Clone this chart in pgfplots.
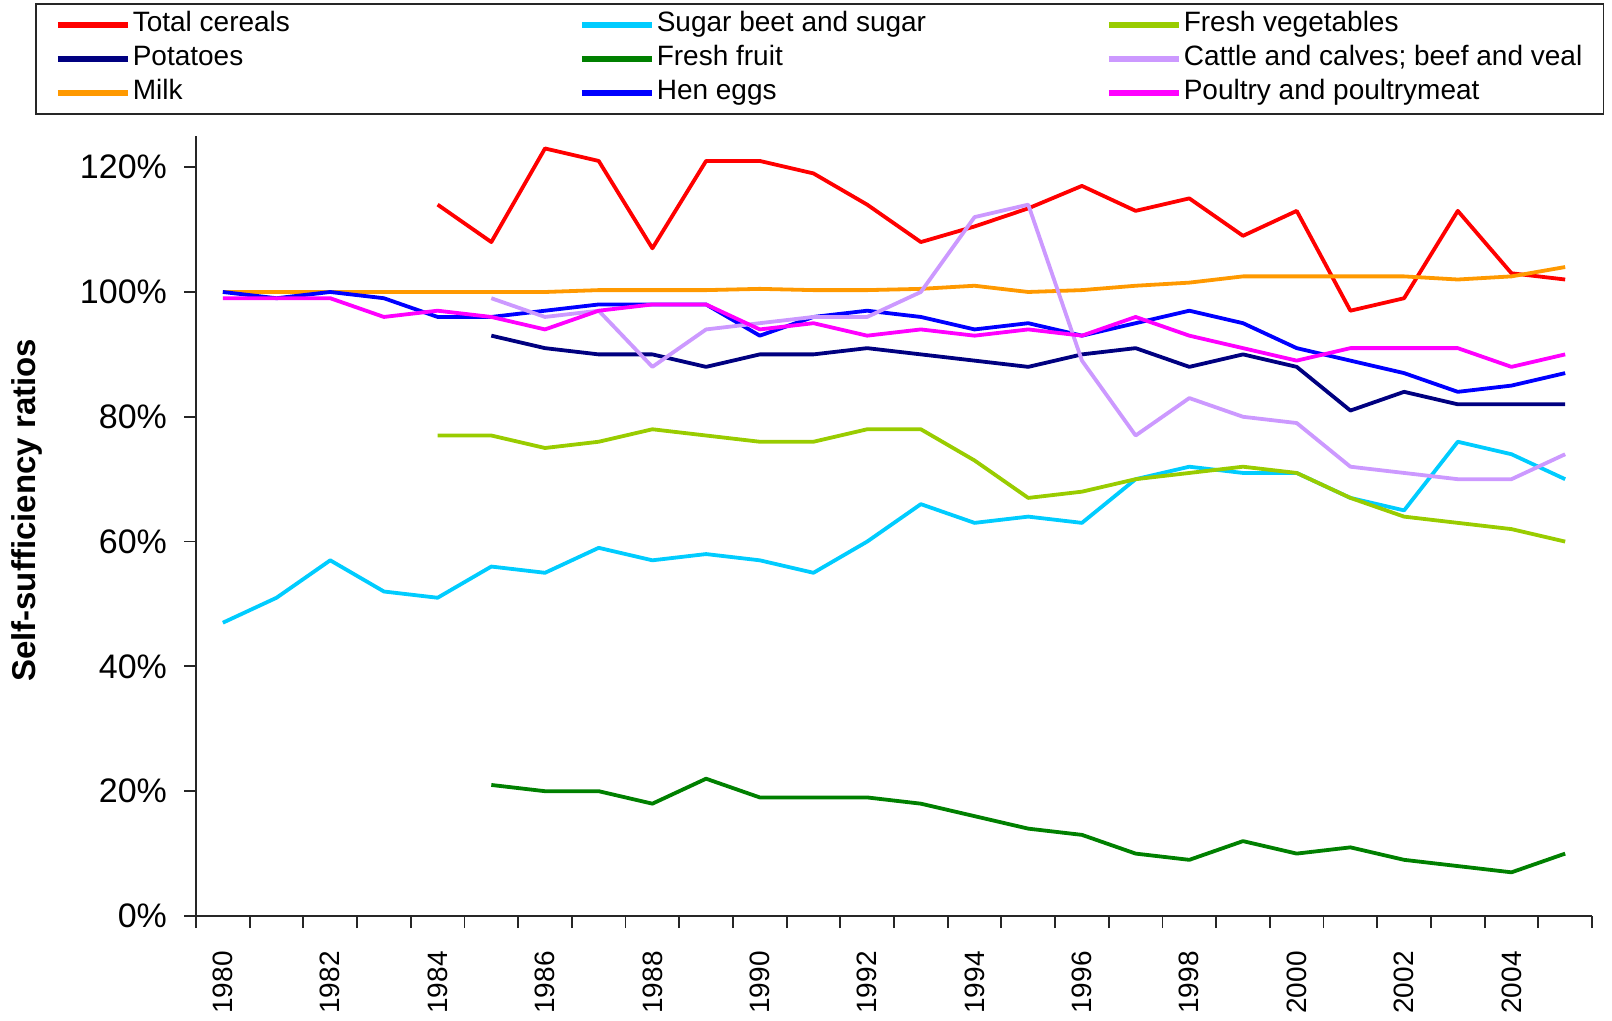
\documentclass[border=0pt]{standalone}
\usepackage{fontspec}
\setmainfont{Liberation Sans}
\usepackage{pgfplots}
\pgfplotsset{compat=1.18}
\definecolor{cCer}{HTML}{FF0000}
\definecolor{cPot}{HTML}{000080}
\definecolor{cMilk}{HTML}{FF9900}
\definecolor{cSug}{HTML}{00CCFF}
\definecolor{cFruit}{HTML}{008000}
\definecolor{cEgg}{HTML}{0000FF}
\definecolor{cVeg}{HTML}{99CC00}
\definecolor{cCat}{HTML}{CC99FF}
\definecolor{cPoul}{HTML}{FF00FF}
\begin{document}
\begin{tikzpicture}
\begin{axis}[
  scale only axis, width=698pt, height=390pt,
  xmin=1979.5, xmax=2005.5, ymin=0, ymax=125,
  axis x line=bottom, axis y line=left,
  axis line style={-, line width=1pt, black!85},
  tick align=outside,
  xtick={1980,1982,...,2004},
  minor xtick={1979.5,1980.5,...,2005.5},
  major x tick style={draw=none},
  minor x tick style={line width=0.9pt, black!85},
  minor tick length=6pt, major tick length=6pt,
  ytick={0,20,...,120},
  y tick style={line width=0.9pt, black!85},
  yticklabel={\pgfmathprintnumber{\tick}\%},
  /pgf/number format/assume math mode=true,
  xticklabel style={rotate=90, anchor=east, inner sep=0.5pt, font=\fontsize{14}{16}\selectfont},
  x tick label style={/pgf/number format/1000 sep={}},
  yticklabel style={font=\fontsize{17}{19}\selectfont},
  xticklabel shift=11pt,
  yticklabel shift=5pt,
  every axis y label/.style={at={([xshift=-84.5pt]axis description cs:0,0.52)}, rotate=90, anchor=center, font=\bfseries\fontsize{16.5}{18}\selectfont},
  ylabel={Self-sufficiency ratios},
  legend columns=3,
  legend image code/.code={\draw[#1, line width=3pt] (0pt,0pt) -- (35pt,0pt);},
  legend style={at={(0,1)}, anchor=north west, xshift=-80.5pt, yshift=66.5pt,
    draw=black!85, line width=0.8pt, inner xsep=9.5pt, inner ysep=3pt,
    font=\fontsize{14}{16}\selectfont,
    nodes={inner sep=1pt, text height=10pt, text depth=3pt, anchor=west},
    row sep=2pt, column sep=0pt},
  legend cell align=left,
  every axis plot/.append style={line width=1.9pt, line join=round},
]
% Total cereals
\addplot[cCer, forget plot] coordinates {
(1984,114)(1985,108)(1986,123)(1987,121)(1988,107)(1989,121)(1990,121)(1991,119)(1992,114)(1993,108)(1994,110.5)(1995,113.4)(1996,117)(1997,113)(1998,115)(1999,109)(2000,113)(2001,97)(2002,99)(2003,113)(2004,103)(2005,102)};
% Potatoes
\addplot[cPot, forget plot] coordinates {
(1985,93)(1986,91)(1987,90)(1988,90)(1989,88)(1990,90)(1991,90)(1992,91)(1993,90)(1994,89)(1995,88)(1996,90)(1997,91)(1998,88)(1999,90)(2000,88)(2001,81)(2002,84)(2003,82)(2004,82)(2005,82)};
% Milk
\addplot[cMilk, forget plot] coordinates {
(1980,100)(1981,100)(1982,100)(1983,100)(1984,100)(1985,100)(1986,100)(1987,100.3)(1988,100.3)(1989,100.3)(1990,100.5)(1991,100.3)(1992,100.3)(1993,100.5)(1994,101)(1995,100)(1996,100.3)(1997,101)(1998,101.5)(1999,102.5)(2000,102.5)(2001,102.5)(2002,102.5)(2003,102)(2004,102.5)(2005,104)};
% Sugar beet and sugar
\addplot[cSug, forget plot] coordinates {
(1980,47)(1981,51)(1982,57)(1983,52)(1984,51)(1985,56)(1986,55)(1987,59)(1988,57)(1989,58)(1990,57)(1991,55)(1992,60)(1993,66)(1994,63)(1995,64)(1996,63)(1997,70)(1998,72)(1999,71)(2000,71)(2001,67)(2002,65)(2003,76)(2004,74)(2005,70)};
% Fresh fruit
\addplot[cFruit, forget plot] coordinates {
(1985,21)(1986,20)(1987,20)(1988,18)(1989,22)(1990,19)(1991,19)(1992,19)(1993,18)(1994,16)(1995,14)(1996,13)(1997,10)(1998,9)(1999,12)(2000,10)(2001,11)(2002,9)(2003,8)(2004,7)(2005,10)};
% Hen eggs
\addplot[cEgg, forget plot] coordinates {
(1980,100)(1981,99)(1982,100)(1983,99)(1984,96)(1985,96)(1986,97)(1987,98)(1988,98)(1989,98)(1990,93)(1991,96)(1992,97)(1993,96)(1994,94)(1995,95)(1996,93)(1997,95)(1998,97)(1999,95)(2000,91)(2001,89)(2002,87)(2003,84)(2004,85)(2005,87)};
% Fresh vegetables
\addplot[cVeg, forget plot] coordinates {
(1984,77)(1985,77)(1986,75)(1987,76)(1988,78)(1989,77)(1990,76)(1991,76)(1992,78)(1993,78)(1994,73)(1995,67)(1996,68)(1997,70)(1998,71)(1999,72)(2000,71)(2001,67)(2002,64)(2003,63)(2004,62)(2005,60)};
% Cattle and calves; beef and veal
\addplot[cCat, forget plot] coordinates {
(1985,99)(1986,96)(1987,97)(1988,88)(1989,94)(1990,95)(1991,96)(1992,96)(1993,100)(1994,112)(1995,114)(1996,89)(1997,77)(1998,83)(1999,80)(2000,79)(2001,72)(2002,71)(2003,70)(2004,70)(2005,74)};
% Poultry and poultrymeat
\addplot[cPoul, forget plot] coordinates {
(1980,99)(1981,99)(1982,99)(1983,96)(1984,97)(1985,96)(1986,94)(1987,97)(1988,98)(1989,98)(1990,94)(1991,95)(1992,93)(1993,94)(1994,93)(1995,94)(1996,93)(1997,96)(1998,93)(1999,91)(2000,89)(2001,91)(2002,91)(2003,91)(2004,88)(2005,90)};
% legend, row by row
\addlegendimage{cCer}\addlegendentry{\makebox[222pt][l]{Total cereals}}
\addlegendimage{cSug}\addlegendentry{\makebox[223.5pt][l]{Sugar beet and sugar}}
\addlegendimage{cVeg}\addlegendentry{Fresh vegetables}
\addlegendimage{cPot}\addlegendentry{\makebox[222pt][l]{Potatoes}}
\addlegendimage{cFruit}\addlegendentry{\makebox[223.5pt][l]{Fresh fruit}}
\addlegendimage{cCat}\addlegendentry{Cattle and calves; beef and veal}
\addlegendimage{cMilk}\addlegendentry{\makebox[222pt][l]{Milk}}
\addlegendimage{cEgg}\addlegendentry{\makebox[223.5pt][l]{Hen eggs}}
\addlegendimage{cPoul}\addlegendentry{Poultry and poultrymeat}
\end{axis}
\path ([xshift=-98pt,yshift=-52pt]current axis.south west) rectangle ([xshift=10pt,yshift=68pt]current axis.north east);
\end{tikzpicture}
\end{document}
